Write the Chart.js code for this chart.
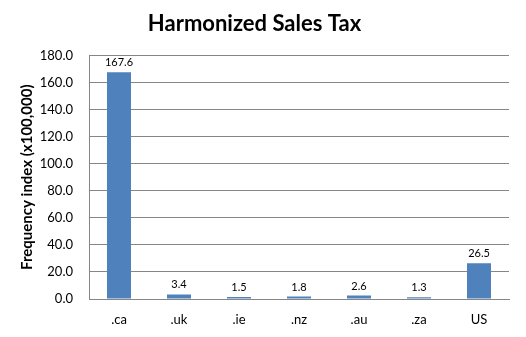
<!DOCTYPE html>
<html>
<head>
<meta charset="utf-8">
<script src="https://cdn.jsdelivr.net/npm/chart.js@4/dist/chart.umd.min.js"></script>
<style>
  html, body { margin: 0; padding: 0; background: #fff; }
  #wrap { width: 526px; height: 337px; }
</style>
</head>
<body>
<div id="wrap"><canvas id="hstChart"></canvas></div>
<script>
const categories = ['.ca', '.uk', '.ie', '.nz', '.au', '.za', 'US'];
const frequency = [167.6, 3.4, 1.5, 1.8, 2.6, 1.3, 26.5];
const yTicks = [0, 20, 40, 60, 80, 100, 120, 140, 160, 180];

const fontFamily = 'Lato, "Open Sans", sans-serif';

// value labels above each bar
const barLabels = {
    id: 'barLabels',
    afterDatasetsDraw(chart) {
        const ctx = chart.ctx;
        const meta = chart.getDatasetMeta(0);
        ctx.save();
        ctx.font = '11px ' + fontFamily;
        ctx.fillStyle = '#000';
        ctx.textAlign = 'center';
        ctx.textBaseline = 'bottom';
        meta.data.forEach((bar, i) => {
            ctx.fillText(frequency[i].toFixed(1), bar.x, bar.y - 4);
        });
        ctx.restore();
    }
};

new Chart(document.getElementById('hstChart'), {
    type: 'bar',
    data: {
        labels: categories,
        datasets: [{
            data: frequency,
            backgroundColor: '#4F81BD',
            barPercentage: 0.4,
            categoryPercentage: 1.0
        }]
    },
    options: {
        responsive: true,
        maintainAspectRatio: false,
        animation: false,
        layout: { padding: { left: 0, right: 17, top: 0, bottom: 0 } },
        plugins: {
            legend: { display: false },
            tooltip: { enabled: false },
            title: {
                display: true,
                text: 'Harmonized Sales Tax',
                color: '#000',
                font: { family: fontFamily, size: 22, weight: 'bold' },
                padding: { top: 11, bottom: 18 }
            }
        },
        scales: {
            x: {
                grid: { display: false, drawTicks: false },
                border: { color: '#868686' },
                ticks: {
                    color: '#000',
                    font: { family: fontFamily, size: 13 },
                    padding: 13
                },
                afterFit(scale) { scale.height = 38; }
            },
            y: {
                min: 0,
                max: 180,
                afterBuildTicks(scale) {
                    scale.ticks = yTicks.map(v => ({ value: v }));
                },
                grid: { color: '#868686', drawTicks: false },
                border: { color: '#868686' },
                ticks: {
                    color: '#000',
                    font: { family: fontFamily, size: 13 },
                    padding: 16,
                    callback: v => v.toFixed(1)
                },
                title: {
                    display: true,
                    text: 'Frequency index (x100,000)',
                    color: '#000',
                    font: { family: fontFamily, size: 15, weight: 'bold' },
                    padding: { top: 18, bottom: 0 }
                },
                afterFit(scale) { scale.width = 89; }
            }
        }
    },
    plugins: [barLabels]
});
</script>
</body>
</html>
